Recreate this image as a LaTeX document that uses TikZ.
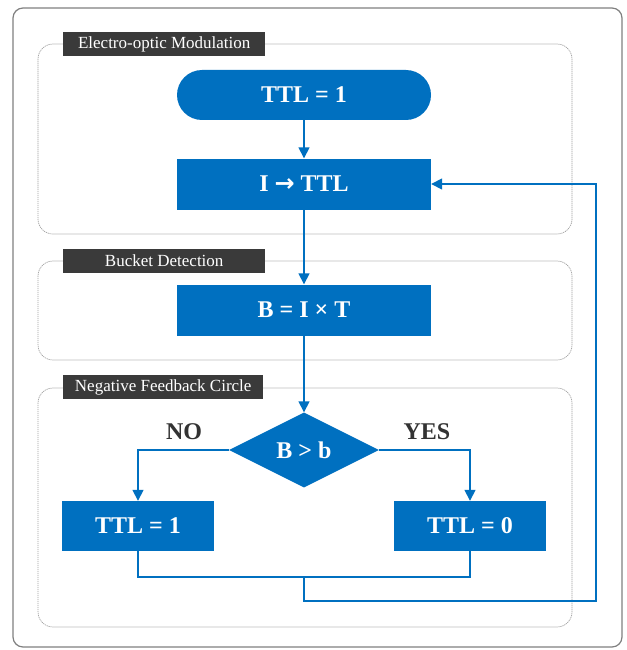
\documentclass[tikz,border=0pt]{standalone}
\usepackage{fontspec}
\setmainfont{Liberation Serif}
\newfontfamily\arrowfont{DejaVu Sans}
\usetikzlibrary{shapes.geometric,arrows.meta}
\definecolor{mblue}{HTML}{0070C0}
\definecolor{lblgray}{HTML}{3A3A3A}
\definecolor{txtgray}{HTML}{333333}
\begin{document}
\begin{tikzpicture}[x=1pt,y=-1pt,
  blk/.style={fill=mblue, text=white, font=\fontsize{24}{28}\selectfont\bfseries, inner sep=0pt, minimum width=254pt, minimum height=51pt},
  smallblk/.style={blk, minimum width=152pt, minimum height=50pt},
  stadium/.style={blk, rounded corners=25pt, minimum height=50pt},
  dia/.style={diamond, fill=mblue, text=white, font=\fontsize{24}{28}\selectfont\bfseries, inner sep=0pt, aspect=2, minimum width=150pt, minimum height=75pt},
  ln/.style={draw=mblue, line width=1.6pt},
  arr/.style={ln, -{Triangle[length=11pt,width=11pt]}},
  grp/.style={draw=gray!75, line width=0.7pt, dash pattern=on 1.2pt off 0.8pt, rounded corners=15pt},
  grplbl/.style={fill=lblgray, text=white, font=\fontsize{17}{20}\selectfont, inner sep=0pt, minimum height=24pt, anchor=west},
  yn/.style={text=txtgray, font=\fontsize{24}{28}\selectfont\bfseries}
]
\useasboundingbox (0,0) rectangle (626,650);
\fill[white] (0,0) rectangle (626,650);
\draw[draw=gray, line width=1.2pt, rounded corners=10pt] (13,8) rectangle (622,647);

% groups
\draw[grp] (38,44) rectangle (572,234);
\draw[grp] (38,261) rectangle (572,360);
\draw[grp] (38,388) rectangle (572,627);
\node[grplbl, minimum width=202pt] (g1) at (63,44) {Electro-optic Modulation};
\node[grplbl, minimum width=202pt] (g2) at (63,261) {Bucket Detection};
\node[grplbl, minimum width=200pt] (g3) at (63,387) {Negative Feedback Circle};

% nodes
\node[stadium] (start) at (304,95) {TTL = 1};
\node[blk] (itt) at (304,184) {I {\arrowfont\bfseries →} TTL};
\node[blk] (bit) at (304,310) {B = I × T};
\node[dia] (cmp) at (304,450) {B > b};
\node[smallblk] (left) at (138,526) {TTL = 1};
\node[smallblk] (right) at (470,526) {TTL = 0};
\node[yn] (no) at (184,432) {NO};
\node[yn] (yes) at (427,432) {YES};

\coordinate (jn) at (304,577);
\coordinate (c1) at (304,601);
\coordinate (c2) at (596,601);

% connectors
\draw[arr] (start) -- (itt);
\draw[arr] (itt) -- (bit);
\draw[arr] (bit) -- (cmp);
\draw[arr] (cmp.west) -| (left.north);
\draw[arr] (cmp.east) -| (right.north);
\draw[ln] (left.south) |- (jn) -| (right.south);
\draw[arr] (jn) -- (c1) -- (c2) |- (itt.east);
\end{tikzpicture}
\end{document}
